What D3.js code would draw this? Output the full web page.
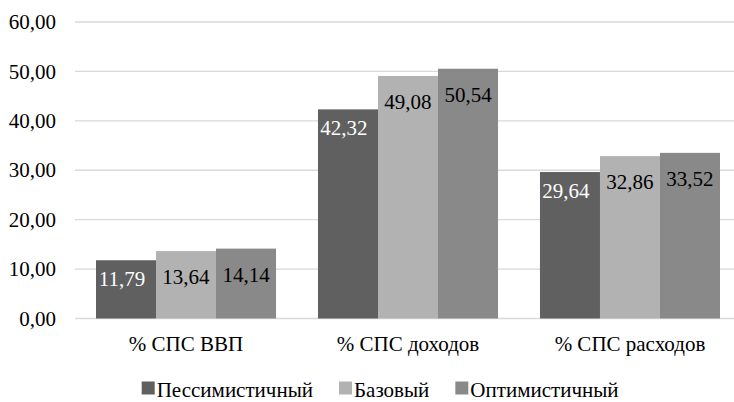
<!DOCTYPE html>
<html>
<head>
<meta charset="utf-8">
<script src="https://cdn.jsdelivr.net/npm/d3@7"></script>
<style>
  html, body { margin: 0; padding: 0; background: #fff; }
</style>
</head>
<body>
<svg id="chart" width="734" height="402"></svg>
<script>
// Categories and scenario series
const categories = ["% СПС ВВП", "% СПС доходов", "% СПС расходов"];
const seriesNames = ["Пессимистичный", "Базовый", "Оптимистичный"];
const pessimistic = [11.79, 42.32, 29.64];
const baseline = [13.64, 49.08, 32.86];
const optimistic = [14.14, 50.54, 33.52];
const yTicks = [0, 10, 20, 30, 40, 50, 60];

const seriesValues = [pessimistic, baseline, optimistic];
const colors = ["#606060", "#b2b2b2", "#898989"];
const labelColors = ["#ffffff", "#000000", "#000000"];
const labelDy = [26, 33, 33];
const labelDx = [-4, 0, 0];

const W = 734, H = 402;
const svg = d3.select("#chart");
const fmt = v => v.toFixed(2).replace(".", ",");
// Times-style text for every label
const serif = sel => sel.each(function () {
  this.style.setProperty("font-family", "'Liberation Serif', 'Times New Roman', Tinos", "important");
  this.style.setProperty("font-size", "21px", "important");
});

const y = d3.scaleLinear().domain([0, 60]).range([318.5, 22]);
const x0 = d3.scaleBand().domain(categories).range([75, 741])
  .paddingInner(0.189).paddingOuter(0.0946);
const x1 = d3.scaleBand().domain(seriesNames).range([0, x0.bandwidth()]).padding(0);

// Horizontal gridlines
svg.append("g").selectAll("line").data(yTicks).join("line")
  .attr("x1", 75).attr("x2", W)
  .attr("y1", d => y(d)).attr("y2", d => y(d))
  .attr("stroke", "#d9d9d9").attr("stroke-width", 1.3);

// Y axis labels
const yAxis = d3.axisLeft(y).tickValues(yTicks).tickFormat(fmt).tickSize(0).tickPadding(0);
const yg = svg.append("g").attr("transform", "translate(56,0)").call(yAxis)
  .attr("font-family", null).attr("font-size", null);
yg.select(".domain").remove();
yg.selectAll("text").attr("fill", "#000").call(serif);

// Bars
const groups = svg.append("g").selectAll("g").data(categories).join("g")
  .attr("transform", d => `translate(${x0(d)},0)`);

groups.each(function (cat, ci) {
  const g = d3.select(this);
  seriesNames.forEach((s, si) => {
    const v = seriesValues[si][ci];
    g.append("rect")
      .attr("x", x1(s)).attr("width", x1.bandwidth())
      .attr("y", y(v)).attr("height", y(0) - y(v))
      .attr("fill", colors[si]);
  });
  seriesNames.forEach((s, si) => {
    const v = seriesValues[si][ci];
    g.append("text")
      .attr("x", x1(s) + x1.bandwidth() / 2 + labelDx[si])
      .attr("y", y(v) + labelDy[si])
      .attr("text-anchor", "middle")
      .attr("fill", labelColors[si])
      .call(serif)
      .text(fmt(v));
  });
});

// Category axis labels
const xAxis = d3.axisBottom(x0).tickSize(0).tickPadding(0);
const xg = svg.append("g").attr("transform", `translate(0,${y(0)})`).call(xAxis)
  .attr("font-family", null).attr("font-size", null);
xg.select(".domain").remove();
xg.selectAll("text").attr("fill", "#000").attr("dy", null).attr("y", 32.5).call(serif);

// Legend
const legend = svg.append("g");
const items = legend.selectAll("g").data(seriesNames).join("g");
items.append("rect").attr("width", 13).attr("height", 13).attr("y", -15.5)
  .attr("fill", (d, i) => colors[i]);
items.append("text").attr("x", 15).attr("y", 0)
  .attr("fill", "#000").call(serif).text(d => d);
let cx = 141.7;
items.each(function () {
  const w = 15 + d3.select(this).select("text").node().getComputedTextLength();
  d3.select(this).attr("transform", `translate(${cx},397)`);
  cx += w + 26;
});
</script>
</body>
</html>
